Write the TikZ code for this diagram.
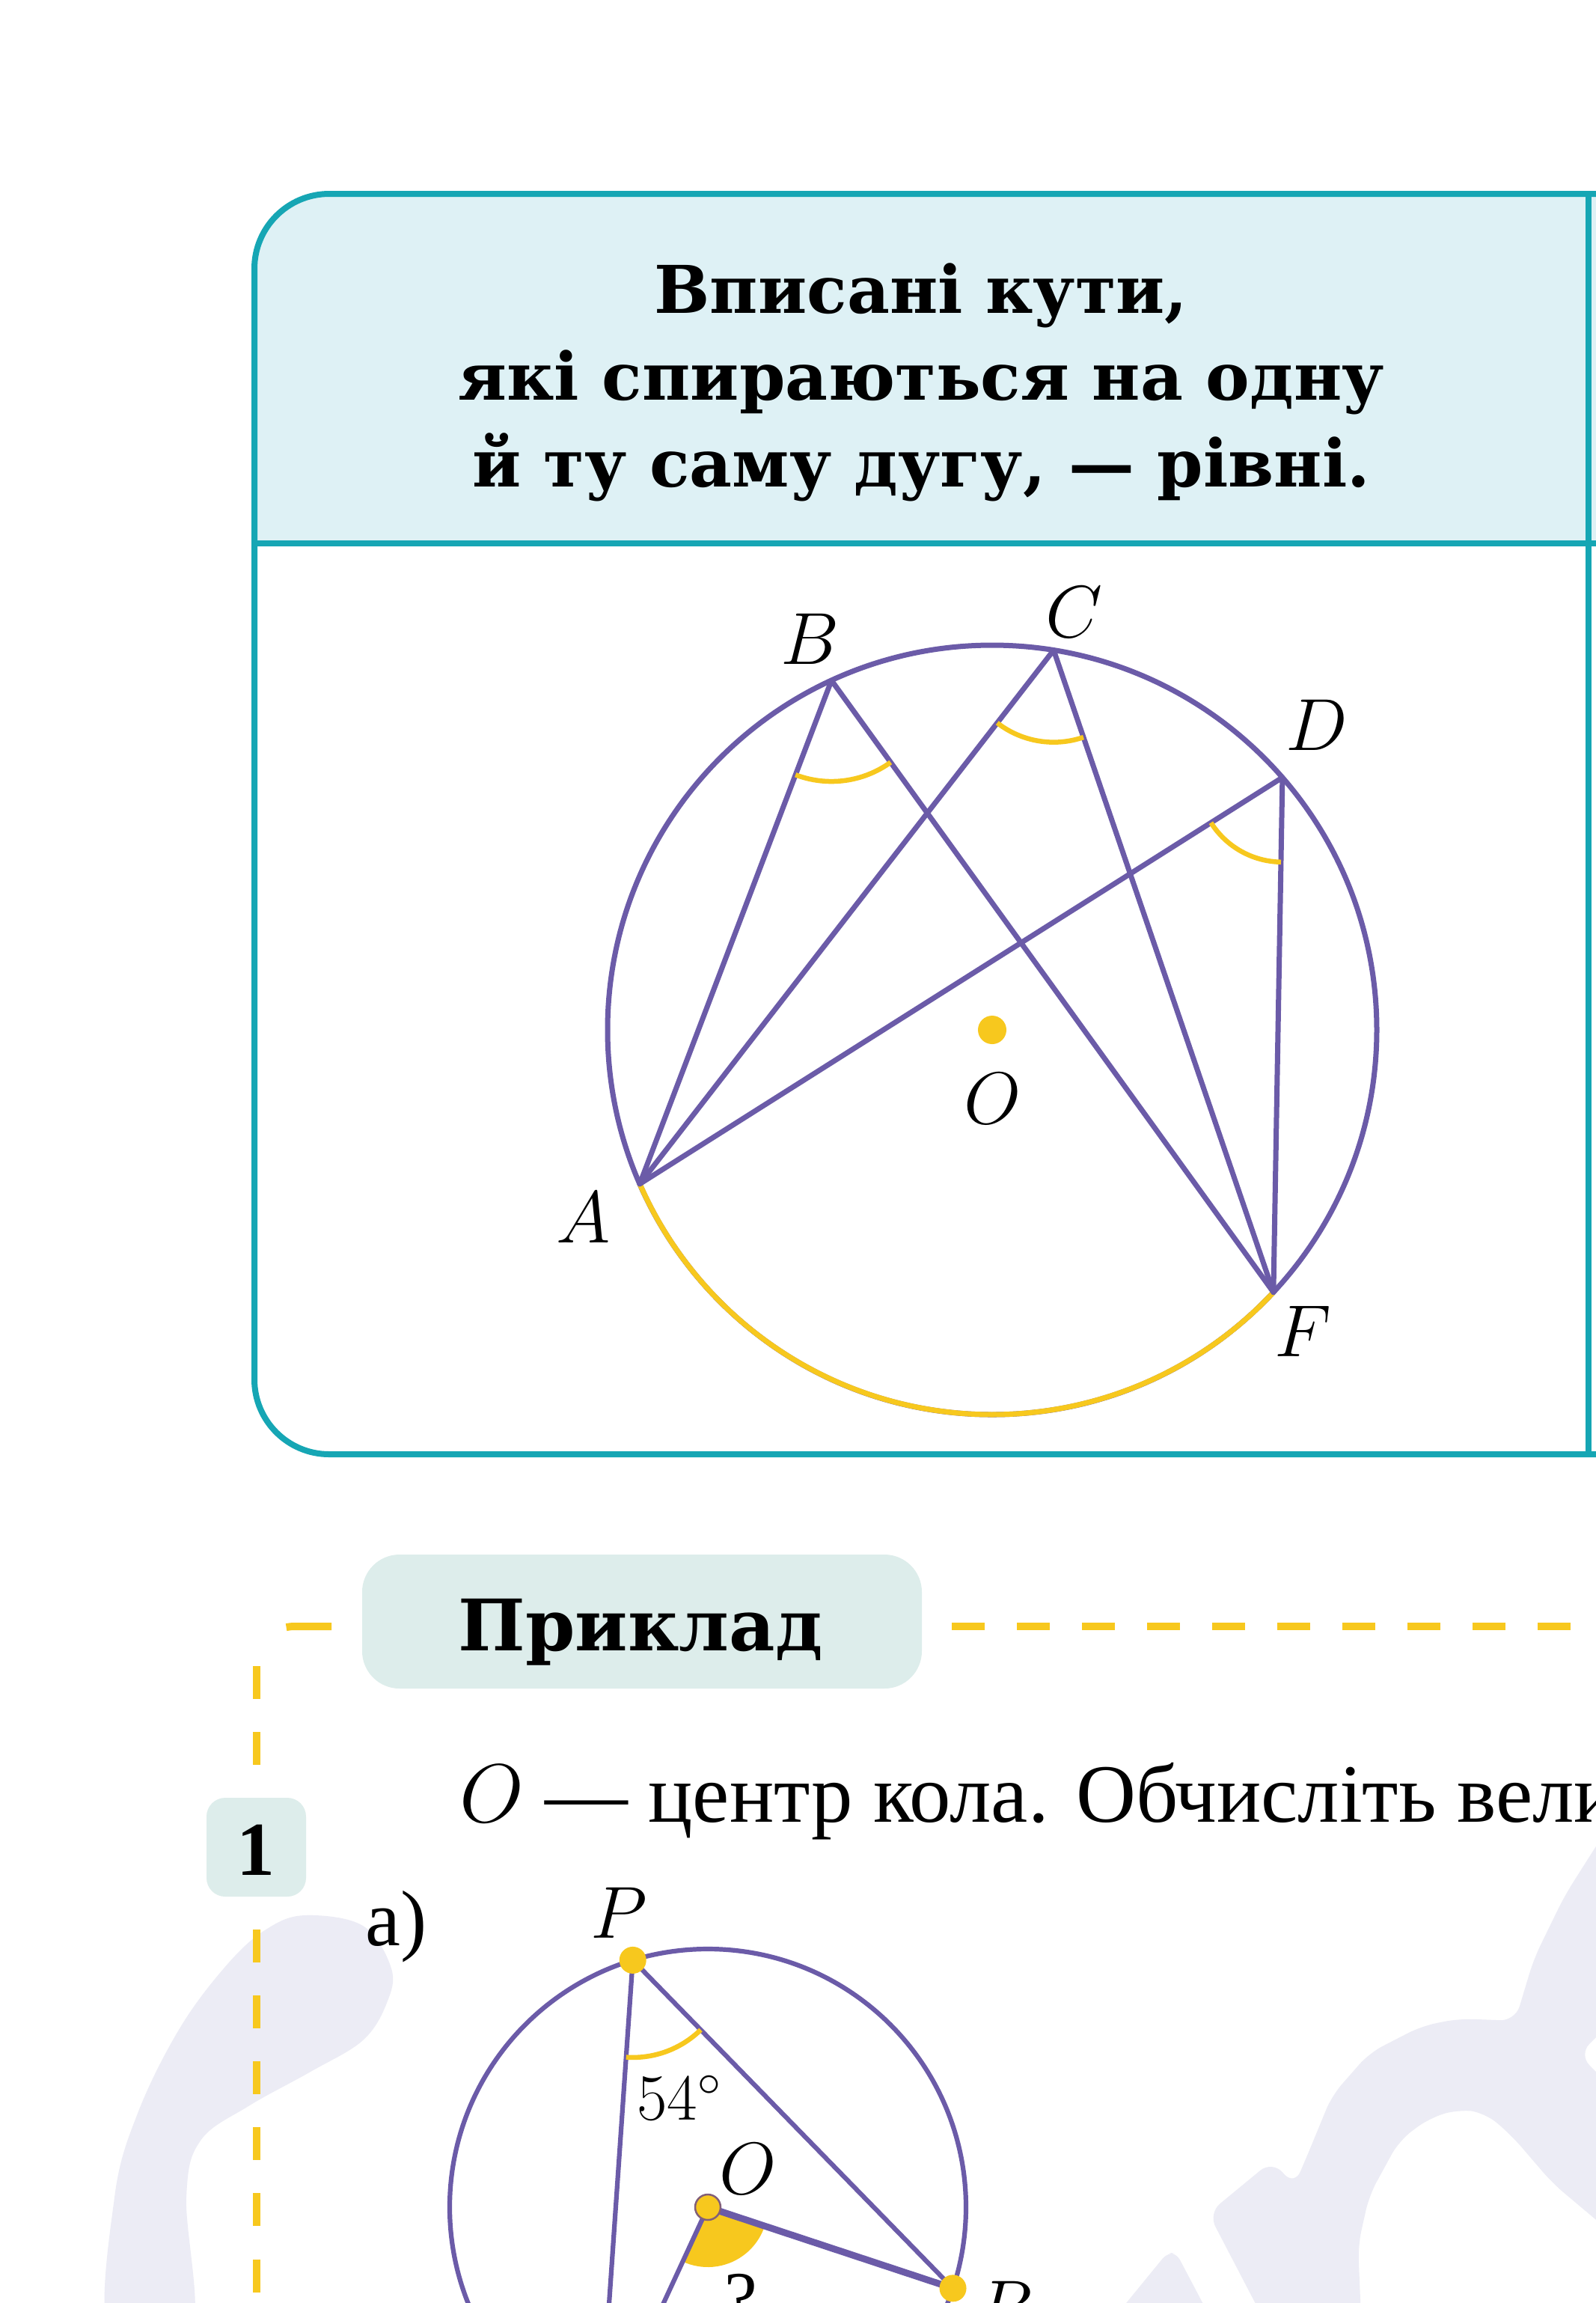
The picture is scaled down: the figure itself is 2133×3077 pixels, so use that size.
\RequirePackage{fix-cm}
\documentclass[tikz,border=0pt]{standalone}
\usepackage{fontspec}
\setmainfont{Liberation Serif}
\newfontfamily\headfont{DejaVu Serif}
\usetikzlibrary{calc}
\definecolor{tealc}{RGB}{22,166,180}
\definecolor{headfill}{RGB}{222,241,245}
\definecolor{purp}{RGB}{107,91,168}
\definecolor{yel}{RGB}{247,200,30}
\definecolor{mint}{RGB}{221,237,235}
\definecolor{wm}{RGB}{236,236,245}
\definecolor{dotrim}{RGB}{130,95,120}
\begin{document}
\begin{tikzpicture}[x=0.01cm,y=0.01cm,
  tborder/.style={draw=tealc, line width=0.08cm},
  pline/.style={draw=purp, line width=0.07cm, line cap=round, line join=round},
  yarc/.style={draw=yel, line width=0.065cm},
  lbl/.style={inner sep=0pt, font=\fontsize{28}{34}\selectfont},
  headtxt/.style={anchor=base, inner sep=0pt, font=\headfont\bfseries\fontsize{25}{33}\selectfont},
  ydash/.style={draw=yel, line width=0.1cm, dash pattern=on 0.44cm off 0.43cm},
  ydashv/.style={draw=yel, line width=0.1cm, dash pattern=on 0.44cm off 0.44cm},
  ydot/.style={fill=yel},
]
\useasboundingbox (0,0) rectangle (2133,-3077);
\fill[white] (0,0) rectangle (2133,-3077);

% ---------- watermark ----------
\fill[wm] plot[smooth cycle, tension=0.6] coordinates {(147,-3120) (153,-2936) (185,-2821) (242,-2707) (306,-2622) (357,-2577) (408,-2559) (485,-2573) (523,-2630) (517,-2676) (485,-2726) (415,-2768) (332,-2814) (268,-2860) (249,-2936) (255,-3120)};
\fill[wm, rounded corners=0.2cm] (1700,-3120) -- (1615,-2957) -- (1700,-2887) -- (1730,-2920) -- (1750,-2873) -- (1780,-2800) -- (1830,-2743) -- (1900,-2707) -- (1950,-2697) -- (2025,-2700) -- (2050,-2617) -- (2091,-2533) -- (2150,-2440) -- (2150,-2705) -- (2110,-2745) -- (2150,-2785) -- (2150,-2980) -- (2075,-2917) -- (2020,-2853) -- (1985,-2823) -- (1950,-2818) -- (1910,-2830) -- (1870,-2860) -- (1830,-2933) -- (1815,-3000) -- (1820,-3120) -- cycle;
\fill[wm, rounded corners=0.1cm] (1470,-3120) -- (1560,-3010) -- (1572,-3010) -- (1630,-3120) -- cycle;

% ---------- rule table ----------
\fill[headfill] (340,-726) -- (340,-359) arc[start angle=180, end angle=90, radius=100] -- (2150,-259) -- (2150,-726) -- cycle;
\draw[tborder] (2150,-259) -- (440,-259) arc[start angle=90, end angle=180, radius=100] -- (340,-1843) arc[start angle=180, end angle=270, radius=100] -- (2150,-1943);
\draw[tborder] (340,-726) -- (2150,-726);
\draw[tborder] (2123,-259) -- (2123,-1943);

\node[headtxt] (h1) at (1231,-418) {Вписані кути,};
\node[headtxt] (h2) at (1231,-534) {які спираються на одну};
\node[headtxt] (h3) at (1231,-650) {й ту саму дугу, — рівні.};

% ---------- main circle ----------
\coordinate (Oc) at (1326,-1376);
\coordinate (A) at ($(Oc)+(203.6:514)$);
\coordinate (B) at ($(Oc)+(114.7:514)$);
\coordinate (C) at ($(Oc)+(80.8:514)$);
\coordinate (D) at ($(Oc)+(41:514)$);
\coordinate (F) at ($(Oc)+(-43:514)$);

\draw[pline] (Oc) circle[radius=514];
\draw[draw=yel, line width=0.07cm] (A) arc[start angle=203.6, end angle=317, radius=514];
\draw[pline] (A) -- (B) -- (F);
\draw[pline] (A) -- (C) -- (F);
\draw[pline] (A) -- (D) -- (F);

\draw[yarc] let \p1=($(A)-(B)$), \p2=($(F)-(B)$), \n1={atan2(\y1,\x1)}, \n2={atan2(\y2,\x2)} in
  ($(B)+(\n1:135)$) arc[start angle=\n1, end angle=\n2, radius=135];
\draw[yarc] let \p1=($(A)-(C)$), \p2=($(F)-(C)$), \n1={atan2(\y1,\x1)}, \n2={atan2(\y2,\x2)} in
  ($(C)+(\n1:123)$) arc[start angle=\n1, end angle=\n2, radius=123];
\draw[yarc] let \p1=($(A)-(D)$), \p2=($(F)-(D)$), \n1={atan2(\y1,\x1)}, \n2={atan2(\y2,\x2)} in
  ($(D)+(\n1:113)$) arc[start angle=\n1, end angle=\n2, radius=113];

\fill[ydot] (Oc) circle[radius=19];

\node[lbl] (lA) at (780,-1627) {$A$};
\node[lbl] (lB) at (1083,-854) {$B$};
\node[lbl] (lC) at (1436,-818) {$C$};
\node[lbl] (lD) at (1760,-969) {$D$};
\node[lbl] (lF) at (1741,-1779) {$F$};
\node[lbl] (lO) at (1327,-1468) {$O$};

% ---------- example frame ----------
\draw[ydash] (1272,-2173) -- (2150,-2173);
\draw[draw=yel, line width=0.1cm] (443,-2173) -- (393,-2173) arc[start angle=90, end angle=102, radius=50];
\draw[ydashv] (343,-2226) -- (343,-3120);

\fill[mint, rounded corners=0.5cm] (484,-2077) rectangle (1232,-2256);
\node[anchor=base, inner sep=0pt, font=\headfont\bfseries\fontsize{27}{32}\selectfont] (prykl) at (856,-2205) {Приклад};

\fill[mint, rounded corners=0.25cm] (276,-2402) rectangle (409,-2534);
\node[inner sep=0pt, font=\fontsize{29}{34}\selectfont] (num) at (342,-2472) {$\mathbf{1}$};

\node[anchor=base west, inner sep=0pt, font=\fontsize{31.5}{38}\selectfont] (task) at (614,-2434) {$O$ — центр кола. Обчисліть вели};
\node[anchor=base west, inner sep=0pt, font=\fontsize{30}{36}\selectfont] (parta) at (488,-2599) {а)};

% ---------- second figure ----------
\coordinate (Os) at (946,-2949);
\coordinate (P) at ($(Os)+(106.9:345)$);
\coordinate (R) at ($(Os)+(-18.3:345)$);
\coordinate (Q) at ($(Os)+(-114.8:345)$);

\fill[yel] let \p1=($(Q)-(Os)$), \p2=($(R)-(Os)$), \n1={atan2(\y1,\x1)}, \n2={atan2(\y2,\x2)} in
  (Os) -- ($(Os)+(\n1:80)$) arc[start angle=\n1, end angle=\n2, radius=80] -- cycle;

\draw[pline, line width=0.062cm] (Os) circle[radius=345];
\draw[pline, line width=0.062cm] (Q) -- (P) -- (R);
\draw[pline, line width=0.062cm] (Os) -- (Q);
\draw[pline, line width=0.09cm] (Os) -- (R);

\draw[yarc] let \p1=($(Q)-(P)$), \p2=($(R)-(P)$), \n1={atan2(\y1,\x1)}, \n2={atan2(\y2,\x2)} in
  ($(P)+(\n1:130)$) arc[start angle=\n1, end angle=\n2, radius=130];

\fill[ydot] (P) circle[radius=18];
\fill[ydot] (R) circle[radius=18];
\filldraw[fill=yel, draw=dotrim, line width=0.025cm] (Os) circle[radius=17];

\node[lbl] (lP) at (827,-2556) {$P$};
\node[lbl] (lOs) at (1000,-2898) {$O$};
\node[lbl] (lq) at (990,-3072) {?};
\node[lbl] (lR) at (1343,-3082) {$R$};
\node[inner sep=0pt, font=\fontsize{25}{30}\selectfont] (l54) at (908,-2803) {$54^\circ$};
\end{tikzpicture}
\end{document}
